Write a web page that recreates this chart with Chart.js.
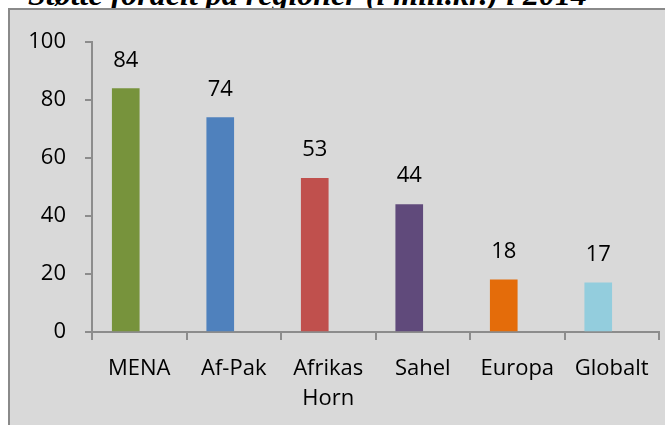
<!DOCTYPE html>
<html>
<head>
<meta charset="utf-8">
<script src="https://cdn.jsdelivr.net/npm/chart.js@4"></script>
<style>
    body { margin: 0; background: #ffffff; width: 665px; height: 425px; overflow: hidden; position: relative; }
    #tittel {
        position: absolute; left: 28px; top: -22px;
        font: bold italic 32px "Liberation Serif", serif; line-height: 32px;
        white-space: nowrap; color: #000;
    }
    #ramme {
        position: absolute; left: 8px; top: 8px; width: 700px; height: 460px;
        background: #d9d9d9; border-left: 2px solid #8a8a8a; border-top: 2px solid #8a8a8a;
    }
    #grafikk { position: absolute; left: 0; top: 0; }
</style>
</head>
<body>
<div id="tittel">Støtte fordelt på regioner (i mill.kr.) i 2014</div>
<div id="ramme"><canvas id="grafikk" width="655" height="415"></canvas></div>
<script>
const kategorier = ['MENA', 'Af-Pak', ['Afrikas', 'Horn'], 'Sahel', 'Europa', 'Globalt'];
const verdier = [84, 74, 53, 44, 18, 17];
const farger = ['#77933c', '#4f81bd', '#c0504d', '#604a7b', '#e46c0a', '#93cddd'];
const tomSerie = [null, null, null, null, null, null];
const yTicks = [0, 20, 40, 60, 80, 100];

const aksefarge = '#8c8c8c';
const skrift = { family: '"Open Sans", sans-serif', size: 22 };

// verdiene over stolpene
const etiketter = {
    id: 'etiketter',
    afterDatasetsDraw(chart) {
        const ctx = chart.ctx;
        const meta = chart.getDatasetMeta(0);
        ctx.save();
        ctx.font = '22px "Open Sans", sans-serif';
        ctx.fillStyle = '#000';
        ctx.textAlign = 'center';
        ctx.textBaseline = 'alphabetic';
        meta.data.forEach((stolpe, i) => {
            ctx.fillText(verdier[i], stolpe.x, stolpe.y - 22);
        });
        ctx.restore();
    }
};

function tegnGrafikk() {
    const ctx = document.getElementById('grafikk').getContext('2d');
    new Chart(ctx, {
        type: 'bar',
        data: {
            labels: kategorier,
            datasets: [
                { data: verdier, backgroundColor: farger, borderWidth: 0, barThickness: 27 },
                { data: tomSerie, backgroundColor: farger, borderWidth: 0, barThickness: 27 }
            ]
        },
        options: {
            responsive: false,
            animation: false,
            layout: { padding: { top: 29, right: 6, left: 0, bottom: 0 } },
            plugins: {
                legend: { display: false },
                tooltip: { enabled: false }
            },
            scales: {
                x: {
                    afterFit: (scale) => { scale.height = 93; },
                    grid: {
                        offset: true,
                        drawOnChartArea: false,
                        tickLength: 8,
                        color: aksefarge,
                        lineWidth: 2
                    },
                    border: { display: true, color: aksefarge, width: 2 },
                    ticks: {
                        color: '#000',
                        font: { ...skrift, lineHeight: 1.4 },
                        padding: 13,
                        maxRotation: 0,
                        autoSkip: false
                    }
                },
                y: {
                    min: 0,
                    max: 100,
                    afterFit: (scale) => { scale.width = 82; },
                    afterBuildTicks: (scale) => { scale.ticks = yTicks.map(v => ({ value: v })); },
                    grid: {
                        drawOnChartArea: false,
                        tickLength: 7,
                        color: aksefarge,
                        lineWidth: 2
                    },
                    border: { display: true, color: aksefarge, width: 2 },
                    ticks: {
                        color: '#000',
                        font: skrift,
                        padding: 19
                    }
                }
            }
        },
        plugins: [etiketter]
    });
}

tegnGrafikk();
</script>
</body>
</html>
